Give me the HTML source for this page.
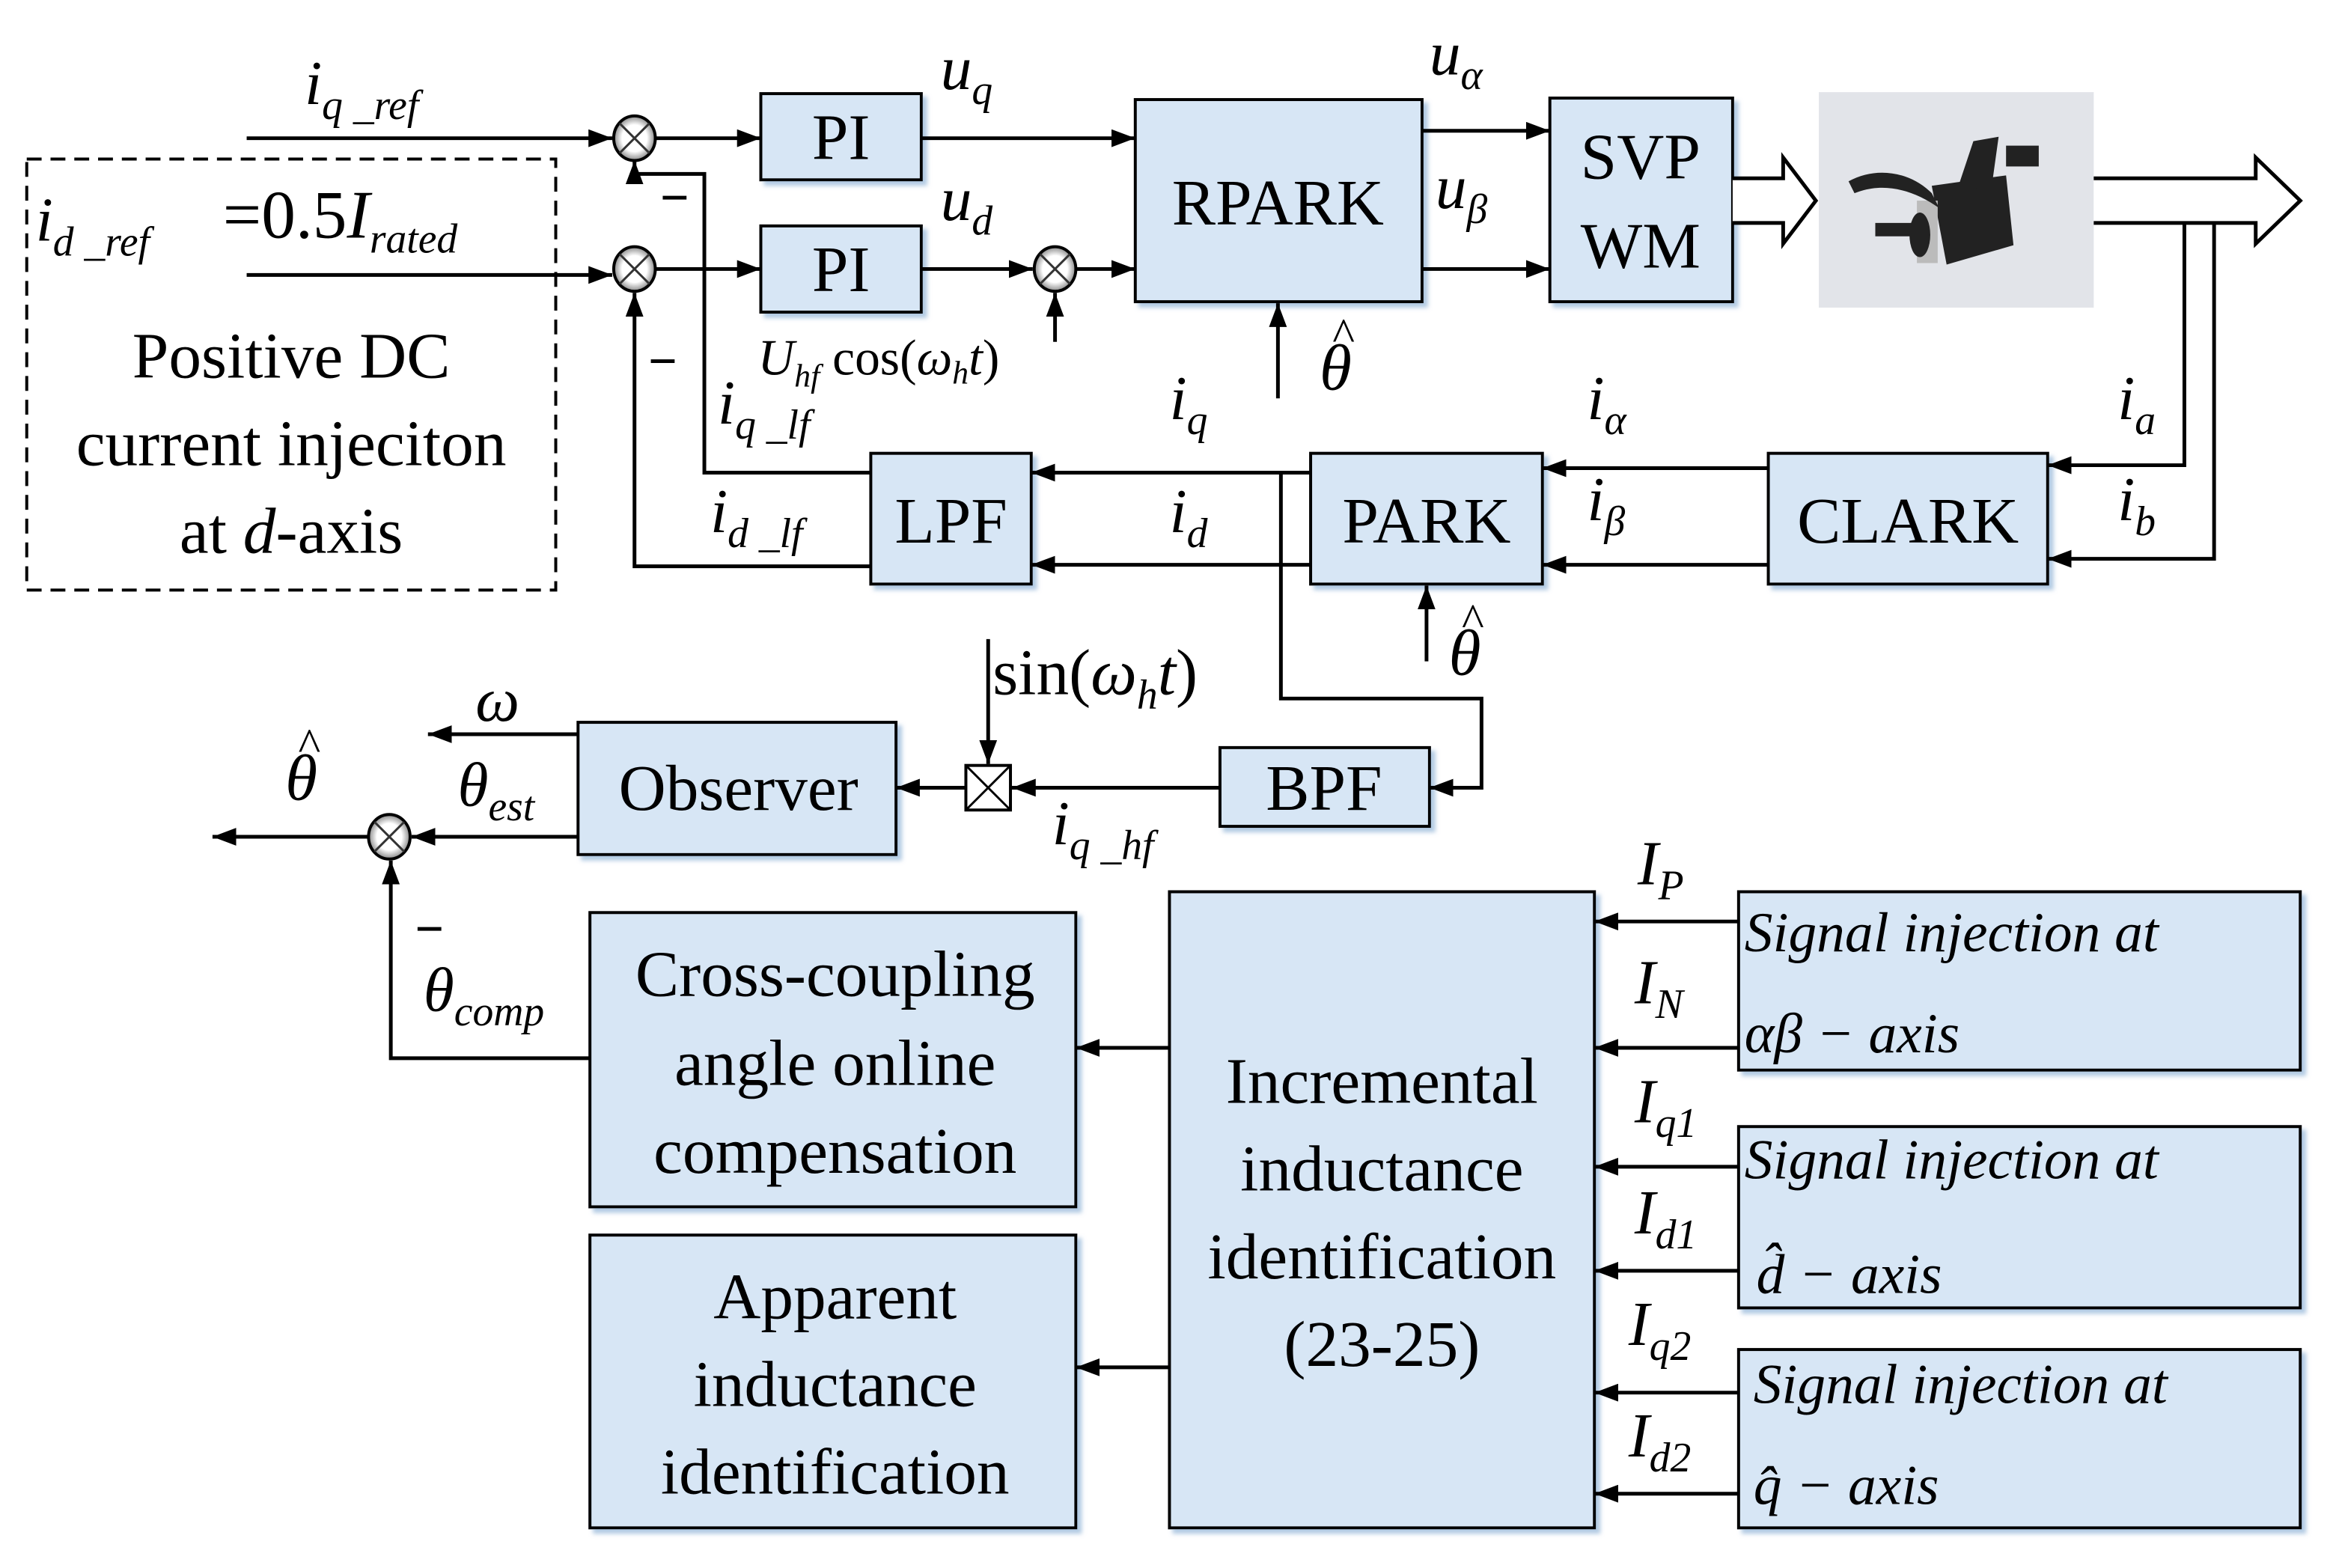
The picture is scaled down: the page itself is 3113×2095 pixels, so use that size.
<!DOCTYPE html>
<html><head><meta charset="utf-8"><style>
html,body{margin:0;padding:0;background:#fff;}
svg{display:block;}
text{font-family:"Liberation Serif",serif;fill:#000;}
.it{font-style:italic;}
</style></head><body>
<svg width="3113" height="2095" viewBox="0 0 1568 1055" preserveAspectRatio="none" xmlns="http://www.w3.org/2000/svg">
<defs>
<marker id="a" markerWidth="16" markerHeight="12" refX="16" refY="6" orient="auto" markerUnits="userSpaceOnUse"><path d="M0,0 L16,6 L0,12 z" fill="#000"/></marker>
<radialGradient id="g" cx="50%" cy="50%" r="50%"><stop offset="0.6" stop-color="#fff"/><stop offset="1" stop-color="#888"/></radialGradient>
<filter id="sh" x="-5%" y="-5%" width="115%" height="115%"><feDropShadow dx="3" dy="3" stdDeviation="1.5" flood-color="#a9c4e0" flood-opacity="0.9"/></filter>
</defs>
<g fill="#d7e6f5" stroke="#000" stroke-width="2" filter="url(#sh)">
<rect x="512" y="63" width="108" height="58"/>
<rect x="512" y="152" width="108" height="58"/>
<rect x="764" y="67" width="193" height="136"/>
<rect x="1043" y="66" width="123" height="137"/>
<rect x="882" y="305" width="156" height="88"/>
<rect x="1190" y="305" width="188" height="88"/>
<rect x="586" y="305" width="108" height="88"/>
<rect x="821" y="503" width="141" height="53"/>
<rect x="389" y="486" width="214" height="89"/>
<rect x="397" y="614" width="327" height="198"/>
<rect x="397" y="831" width="327" height="197"/>
<rect x="787" y="600" width="286" height="428"/>
<rect x="1170" y="600" width="378" height="120"/>
<rect x="1170" y="758" width="378" height="122"/>
<rect x="1170" y="908" width="378" height="120"/>
</g>
<rect x="18" y="107" width="356" height="290" fill="none" stroke="#000" stroke-width="2" stroke-dasharray="10,6"/>
<!-- motor -->
<rect x="1224" y="62" width="185" height="145" fill="#e2e4e9"/>
<g fill="#222">
<path d="M1300,125 L1350,118 L1355,165 L1310,178 Z"/>
<rect x="1290" y="135" width="14" height="42" fill="#bbb"/>
<ellipse cx="1292" cy="158" rx="7" ry="15"/>
<rect x="1262" y="150" width="26" height="9"/>
<path d="M1300,130 C1285,115 1262,112 1244,122 L1248,130 C1268,122 1288,128 1305,140 Z"/>
<path d="M1318,125 L1328,95 L1345,92 L1340,128 Z"/>
<rect x="1350" y="98" width="22" height="14"/>
</g>
<!-- sums -->
<g stroke="#000" stroke-width="2" fill="url(#g)">
<ellipse cx="427" cy="93" rx="14" ry="15"/>
<ellipse cx="427" cy="181" rx="14" ry="15"/>
<ellipse cx="710" cy="181" rx="14" ry="15"/>
<ellipse cx="262" cy="563" rx="14" ry="15"/>
</g>
<g stroke="#333" stroke-width="1.5">
<path d="M417,83 L437,103 M437,83 L417,103"/>
<path d="M417,171 L437,191 M437,171 L417,191"/>
<path d="M700,171 L720,191 M720,171 L700,191"/>
<path d="M252,553 L272,573 M272,553 L252,573"/>
</g>
<rect x="650" y="515" width="30" height="30" fill="#fff" stroke="#000" stroke-width="2"/>
<path d="M650,515 L680,545 M680,515 L650,545" stroke="#000" stroke-width="1.5"/>
<!-- connectors -->
<g stroke="#000" stroke-width="2.5" fill="none" marker-end="url(#a)">
<path d="M166,93 H412"/>
<path d="M166,185 H412"/>
<path d="M441,93 H512"/>
<path d="M620,93 H764"/>
<path d="M441,181 H512"/>
<path d="M620,181 H695"/>
<path d="M724,181 H764"/>
<path d="M710,230 V197"/>
<path d="M957,88 H1043"/>
<path d="M957,181 H1043"/>
<path d="M860,268 V204"/>
<path d="M1470,120 V313 H1378"/>
<path d="M1490,150 V376 H1378"/>
<path d="M1190,315 H1038"/>
<path d="M1190,380 H1038"/>
<path d="M882,318 H694"/>
<path d="M882,380 H694"/>
<path d="M586,318 H474 V117 H427 V108"/>
<path d="M586,381 H427 V197"/>
<path d="M960,445 V394"/>
<path d="M862,318 V470 H997 V530 H962"/>
<path d="M821,530 H681"/>
<path d="M665,430 V514"/>
<path d="M650,530 H603"/>
<path d="M389,494 H288"/>
<path d="M389,563 H277"/>
<path d="M248,563 H143"/>
<path d="M397,712 H263 V579"/>
<path d="M787,705 H724"/>
<path d="M787,920 H724"/>
<path d="M1170,620 H1073"/>
<path d="M1170,705 H1073"/>
<path d="M1170,785 H1073"/>
<path d="M1170,855 H1073"/>
<path d="M1170,937 H1073"/>
<path d="M1170,1005 H1073"/>
</g>
<!-- hollow arrows -->
<path d="M1166,120 H1200 V106 L1222,135 L1200,164 V150 H1166" fill="#fff" stroke="#000" stroke-width="2.5"/>
<path d="M1409,120 H1518 V106 L1548,135 L1518,164 V150 H1409" fill="#fff" stroke="#000" stroke-width="2.5"/>
<!-- minus signs -->
<g stroke="#000" stroke-width="2.5"><path d="M446,133 H462"/><path d="M438,243 H454"/><path d="M281,625 H297"/></g>
<!-- block labels -->
<g font-size="44" text-anchor="middle">
<text x="566" y="107">PI</text>
<text x="566" y="196">PI</text>
<text x="860" y="151">RPARK</text>
<text x="1104" y="120">SVP</text>
<text x="1104" y="180">WM</text>
<text x="960" y="365">PARK</text>
<text x="1284" y="365">CLARK</text>
<text x="640" y="365">LPF</text>
<text x="891" y="545">BPF</text>
<text x="497" y="545">Observer</text>
<text x="562" y="670">Cross-coupling</text>
<text x="562" y="730">angle online</text>
<text x="562" y="789">compensation</text>
<text x="562" y="887">Apparent</text>
<text x="562" y="946">inductance</text>
<text x="562" y="1005">identification</text>
<text x="930" y="742">Incremental</text>
<text x="930" y="801">inductance</text>
<text x="930" y="860">identification</text>
<text x="930" y="919">(23-25)</text>
<text x="196" y="254">Positive DC</text>
<text x="196" y="313">current injeciton</text>
<text x="196" y="372">at <tspan class="it">d</tspan>-axis</text>
</g>
<g font-size="38" class="it">
<text x="1174" y="640">Signal  injection at</text>
<text x="1174" y="708">αβ − axis</text>
<text x="1174" y="793">Signal  injection at</text>
<text x="1182" y="870">d̂ − axis</text>
<text x="1180" y="944">Signal  injection at</text>
<text x="1180" y="1012">q̂ − axis</text>
</g>
<!-- theta hats -->
<g class="it" font-size="44">
<text x="888" y="262">θ</text><text x="896" y="236" font-size="32">^</text>
<text x="975" y="454">θ</text><text x="983" y="428" font-size="32">^</text>
<text x="192" y="538">θ</text><text x="200" y="512" font-size="32">^</text>
</g>
<!-- signal labels -->
<g class="it" font-size="42">
<text x="205" y="70">i<tspan font-size="28" dy="10">q _ref</tspan></text>
<text x="24" y="162">i<tspan font-size="28" dy="10">d _ref</tspan></text>
<text x="633" y="60">u<tspan font-size="28" dy="10">q</tspan></text>
<text x="633" y="148">u<tspan font-size="28" dy="10">d</tspan></text>
<text x="962" y="50">u<tspan font-size="28" dy="10">α</tspan></text>
<text x="966" y="140">u<tspan font-size="28" dy="10">β</tspan></text>
<text x="1425" y="282">i<tspan font-size="28" dy="10">a</tspan></text>
<text x="1425" y="350">i<tspan font-size="28" dy="10">b</tspan></text>
<text x="1068" y="282">i<tspan font-size="28" dy="10">α</tspan></text>
<text x="1068" y="350">i<tspan font-size="28" dy="10">β</tspan></text>
<text x="787" y="282">i<tspan font-size="28" dy="10">q</tspan></text>
<text x="787" y="358">i<tspan font-size="28" dy="10">d</tspan></text>
<text x="483" y="285">i<tspan font-size="28" dy="10">q _lf</tspan></text>
<text x="478" y="358">i<tspan font-size="28" dy="10">d _lf</tspan></text>
<text x="708" y="568">i<tspan font-size="28" dy="10">q _hf</tspan></text>
<text x="320" y="485">ω</text>
<text x="308" y="542">θ<tspan font-size="28" dy="10">est</tspan></text>
<text x="285" y="680">θ<tspan font-size="28" dy="10">comp</tspan></text>
<text x="1102" y="595">I<tspan font-size="28" dy="10">P</tspan></text>
<text x="1100" y="675">I<tspan font-size="28" dy="10">N</tspan></text>
<text x="1100" y="755">I<tspan font-size="28" dy="10">q1</tspan></text>
<text x="1100" y="830">I<tspan font-size="28" dy="10">d1</tspan></text>
<text x="1096" y="905">I<tspan font-size="28" dy="10">q2</tspan></text>
<text x="1096" y="980">I<tspan font-size="28" dy="10">d2</tspan></text>
</g>
<text x="150" y="160" font-size="46">=0.5<tspan class="it">I</tspan><tspan class="it" font-size="28" dy="10">rated</tspan></text>
<text x="510" y="252" font-size="34"><tspan class="it">U<tspan font-size="22" dy="8">hf</tspan></tspan><tspan dy="-8"> cos(</tspan><tspan class="it">ω<tspan font-size="22" dy="6">h</tspan><tspan dy="-6">t</tspan></tspan>)</text>
<text x="668" y="467" font-size="44">sin(<tspan class="it">ω<tspan font-size="28" dy="10">h</tspan><tspan dy="-10">t</tspan></tspan>)</text>
</svg>
</body></html>
